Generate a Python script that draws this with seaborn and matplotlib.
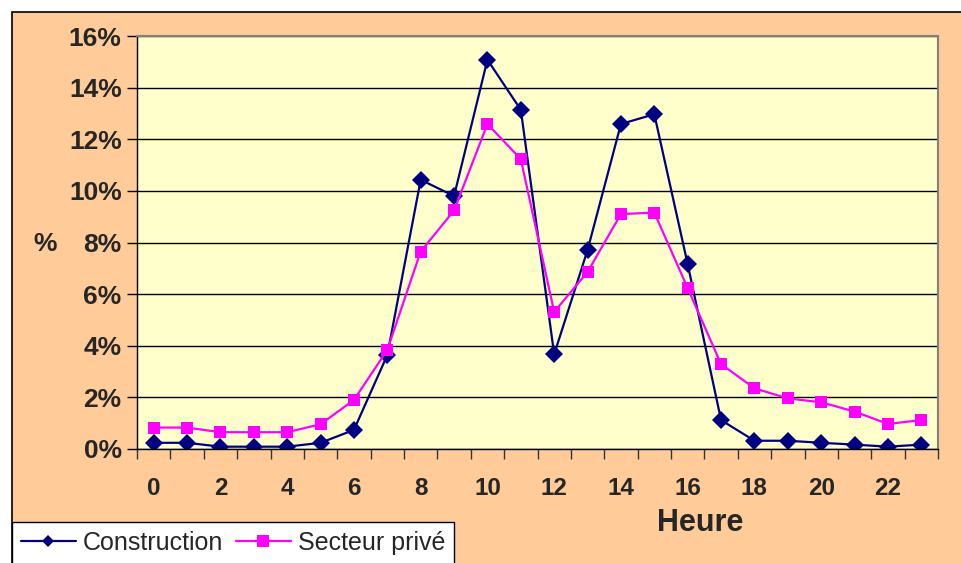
import numpy as np
import pandas as pd
import seaborn as sns
import matplotlib.pyplot as plt
from matplotlib.patches import Rectangle
from matplotlib.ticker import FuncFormatter, FixedLocator

# hourly share of trips (%)
heures = list(range(24))
construction = [0.24, 0.24, 0.09, 0.09, 0.09, 0.24, 0.74, 3.64, 10.43, 9.80, 15.08, 13.14,
                3.67, 7.71, 12.59, 12.97, 7.16, 1.12, 0.32, 0.32, 0.24, 0.17, 0.09, 0.17]
secteur_prive = [0.83, 0.83, 0.65, 0.65, 0.65, 0.96, 1.90, 3.84, 7.65, 9.24, 12.59, 11.23,
                 5.31, 6.86, 9.10, 9.16, 6.23, 3.29, 2.35, 1.96, 1.81, 1.45, 0.97, 1.12]
series = ['Construction', 'Secteur privé']
y_ticks = [0, 2, 4, 6, 8, 10, 12, 14, 16]
x_labels = [0, 2, 4, 6, 8, 10, 12, 14, 16, 18, 20, 22]

df = pd.DataFrame({
    'Heure': heures * 2,
    'pct': construction + secteur_prive,
    'serie': [series[0]] * 24 + [series[1]] * 24,
})

sns.set_style('white')
plt.rcParams['font.family'] = ['Liberation Sans', 'DejaVu Sans']

fig = plt.figure(figsize=(9.61, 5.63), dpi=100)
fig.patch.set_facecolor('white')
fig.patches.append(Rectangle((12 / 961, -0.05), 1.0, (563 - 12) / 563 + 0.05,
                             transform=fig.transFigure, facecolor='#FFCC99',
                             edgecolor='black', lw=1.2, zorder=-10))

ax = fig.add_axes([137 / 961, (563 - 449) / 563, (938 - 137) / 961, (449 - 36) / 563])
ax.set_facecolor('#FFFFCC')

sns.lineplot(data=df, x='Heure', y='pct', hue='serie', style='serie',
             palette={series[0]: '#000080', series[1]: '#FF00FF'},
             markers={series[0]: 'D', series[1]: 's'}, dashes=False,
             linewidth=1.6, markersize=9, markeredgewidth=0, ax=ax, legend=False)

ax.set_xlim(-0.5, 23.5)
ax.set_ylim(0, 16)
ax.yaxis.set_major_locator(FixedLocator(y_ticks))
ax.yaxis.set_major_formatter(FuncFormatter(lambda v, p: f'{v:.0f}%'))
ax.grid(axis='y', color='black', lw=1)
ax.grid(axis='x', visible=False)
ax.set_axisbelow(True)

ax.set_xticks(x_labels)
ax.set_xticks(np.arange(-0.5, 24, 1), minor=True)
ax.tick_params(axis='x', which='major', length=0, pad=20, labelsize=17.5)
ax.tick_params(axis='x', which='minor', length=7, width=1, color='#333333', direction='out', bottom=True)
ax.tick_params(axis='y', which='major', length=7, width=1, color='black', direction='out', left=True,
               labelsize=19, pad=4)
for lab in ax.get_xticklabels() + ax.get_yticklabels():
    lab.set_fontweight('bold')

for side in ['top', 'right']:
    ax.spines[side].set_color('#808080')
    ax.spines[side].set_linewidth(1.5)
for side in ['left', 'bottom']:
    ax.spines[side].set_color('black')
    ax.spines[side].set_linewidth(1)

ax.set_xlabel('Heure', fontsize=22, fontweight='bold', va='center')
ax.xaxis.set_label_coords((700 - 137) / (938 - 137), -(523 - 449) / (449 - 36))
ax.set_ylabel('%', fontsize=19, fontweight='bold', rotation=0, va='center')
ax.yaxis.set_label_coords(-(137 - 45) / (938 - 137), (449 - 244) / (449 - 36))

handles = [plt.Line2D([], [], color='#000080', marker='D', markersize=6.5, lw=1.6, markeredgewidth=0),
           plt.Line2D([], [], color='#FF00FF', marker='s', markersize=8, lw=1.6, markeredgewidth=0)]
leg = fig.legend(handles, series, loc='upper left', bbox_to_anchor=(12 / 961, (563 - 522) / 563),
                 ncol=2, fontsize=18, frameon=True, fancybox=False, borderpad=0.35,
                 handlelength=2.2, handletextpad=0.28, columnspacing=0.5, borderaxespad=0)
leg.get_frame().set_edgecolor('black')
leg.get_frame().set_linewidth(1)
leg.get_frame().set_facecolor('white')
leg.get_frame().set_alpha(1)

fig.savefig('out.png', dpi=100, facecolor=fig.get_facecolor())
